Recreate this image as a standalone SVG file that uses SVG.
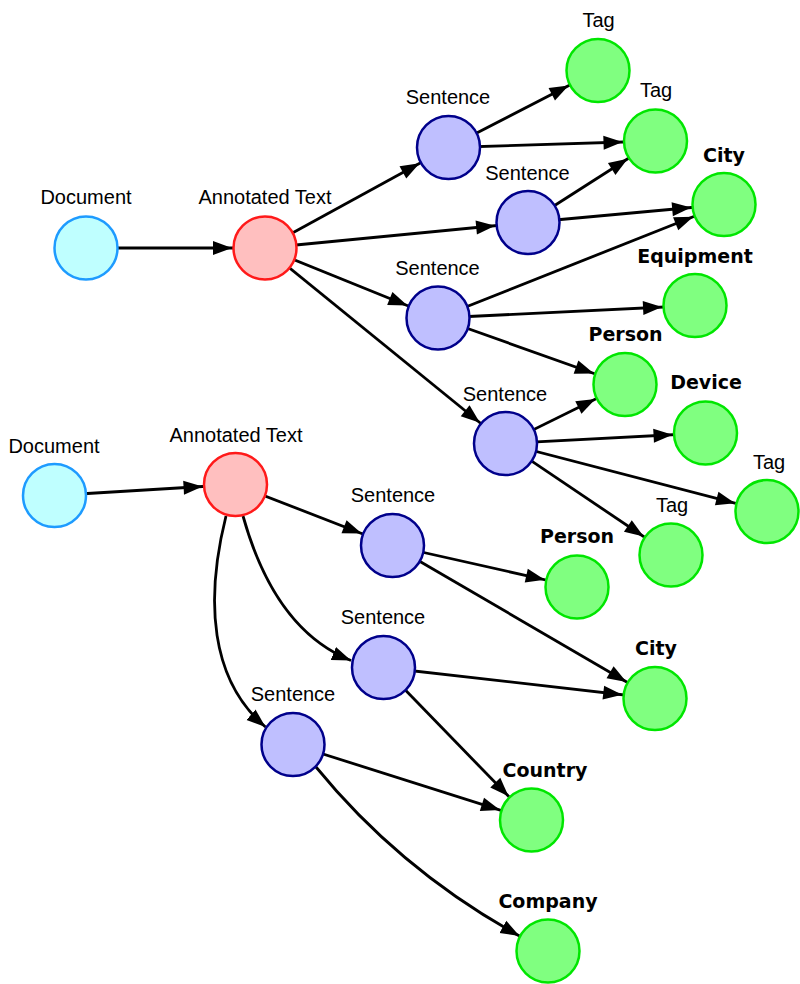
<svg xmlns="http://www.w3.org/2000/svg" width="800" height="984" viewBox="0 0 800 984">
<style>
.lbl{font-family:"Liberation Sans",Arial,sans-serif;font-size:20px;fill:#000;text-anchor:middle}
.bold{font-family:"DejaVu Sans","Liberation Sans",sans-serif;font-size:19px;font-weight:bold;fill:#000;text-anchor:middle}
.doc{fill:#bfffff;stroke:#1e9bff;stroke-width:2.5}
.ann{fill:#ffbfbf;stroke:#ff1a1a;stroke-width:2.5}
.sen{fill:#bfbfff;stroke:#00008b;stroke-width:2.5}
.ent{fill:#80ff80;stroke:#00e600;stroke-width:2.5}
.edge{fill:none;stroke:#000;stroke-width:2.8}
.e{marker-end:url(#arr)}
.c{marker-end:url(#tip)}
</style>
<defs>
<marker id="arr" viewBox="0 0 60 16" refX="60" refY="8" markerWidth="60" markerHeight="16" markerUnits="userSpaceOnUse" orient="auto">
<path d="M8,1 L27,8 L8,15 z" fill="#000"/>
</marker>
<marker id="tip" viewBox="0 0 19 16" refX="19" refY="8" markerWidth="19" markerHeight="16" markerUnits="userSpaceOnUse" orient="auto">
<path d="M0,1 L19,8 L0,15 z" fill="#000"/>
</marker>
</defs>
<g id="connectors" class="edge">
<line class="e" x1="86" y1="248" x2="265" y2="248"/>
<line class="e" x1="265" y1="248" x2="448.5" y2="147.5"/>
<line class="e" x1="265" y1="248" x2="528" y2="222.5"/>
<line class="e" x1="265" y1="248" x2="438" y2="318"/>
<line class="e" x1="265" y1="248" x2="505.5" y2="443.5"/>
<line class="e" x1="448.5" y1="147.5" x2="598" y2="70.5"/>
<line class="e" x1="448.5" y1="147.5" x2="655.5" y2="141"/>
<line class="e" x1="528" y1="222.5" x2="655.5" y2="141"/>
<line class="e" x1="528" y1="222.5" x2="724" y2="204.5"/>
<line class="e" x1="438" y1="318" x2="724" y2="204.5"/>
<line class="e" x1="438" y1="318" x2="695" y2="305.5"/>
<line class="e" x1="438" y1="318" x2="625" y2="384.5"/>
<line class="e" x1="505.5" y1="443.5" x2="625" y2="384.5"/>
<line class="e" x1="505.5" y1="443.5" x2="705.5" y2="433"/>
<line class="e" x1="505.5" y1="443.5" x2="767" y2="511.5"/>
<line class="e" x1="505.5" y1="443.5" x2="671" y2="555"/>
<line class="e" x1="54.5" y1="495.5" x2="235.5" y2="484.5"/>
<line class="e" x1="235.5" y1="484.5" x2="392.5" y2="545.5"/>
<path class="c" d="M243,516 Q275,630 351,660.5"/>
<path class="c" d="M226,516 C205,600 210,680 265.5,727"/>
<line class="e" x1="392.5" y1="545.5" x2="577" y2="587"/>
<line class="e" x1="392.5" y1="545.5" x2="655" y2="698.5"/>
<line class="e" x1="383.5" y1="667.5" x2="655" y2="698.5"/>
<line class="e" x1="383.5" y1="667.5" x2="531.5" y2="820"/>
<line class="e" x1="293" y1="744.5" x2="531.5" y2="820"/>
<path class="c" d="M316,767 Q400,870 519.5,936"/>
</g>
<g id="doc1"><circle class="doc" cx="86" cy="248" r="31.5"/><text class="lbl" x="86" y="204">Document</text></g>
<g id="ann1"><circle class="ann" cx="265" cy="248" r="31.5"/><text class="lbl" x="265" y="204">Annotated Text</text></g>
<g id="sen1"><circle class="sen" cx="448.5" cy="147.5" r="31.5"/><text class="lbl" x="448" y="104">Sentence</text></g>
<g id="sen2"><circle class="sen" cx="528" cy="222.5" r="31.5"/><text class="lbl" x="527.5" y="180">Sentence</text></g>
<g id="sen3"><circle class="sen" cx="438" cy="318" r="31.5"/><text class="lbl" x="437.5" y="275">Sentence</text></g>
<g id="sen4"><circle class="sen" cx="505.5" cy="443.5" r="31.5"/><text class="lbl" x="505" y="401">Sentence</text></g>
<g id="tag1"><circle class="ent" cx="598" cy="70.5" r="31.5"/><text class="lbl" x="598.5" y="27">Tag</text></g>
<g id="tag2"><circle class="ent" cx="655.5" cy="141" r="31.5"/><text class="lbl" x="656" y="97">Tag</text></g>
<g id="city1"><circle class="ent" cx="724" cy="204.5" r="31.5"/><text class="bold" x="724" y="162">City</text></g>
<g id="equipment"><circle class="ent" cx="695" cy="305.5" r="31.5"/><text class="bold" x="695" y="263">Equipment</text></g>
<g id="person1"><circle class="ent" cx="625" cy="384.5" r="31.5"/><text class="bold" x="625.5" y="341">Person</text></g>
<g id="device"><circle class="ent" cx="705.5" cy="433" r="31.5"/><text class="bold" x="706" y="389">Device</text></g>
<g id="tag3"><circle class="ent" cx="767" cy="511.5" r="31.5"/><text class="lbl" x="769" y="469">Tag</text></g>
<g id="tag4"><circle class="ent" cx="671" cy="555" r="31.5"/><text class="lbl" x="672" y="512">Tag</text></g>
<g id="doc2"><circle class="doc" cx="54.5" cy="495.5" r="31.5"/><text class="lbl" x="54" y="453">Document</text></g>
<g id="ann2"><circle class="ann" cx="235.5" cy="484.5" r="31.5"/><text class="lbl" x="236" y="442">Annotated Text</text></g>
<g id="senA"><circle class="sen" cx="392.5" cy="545.5" r="31.5"/><text class="lbl" x="393" y="502">Sentence</text></g>
<g id="senB"><circle class="sen" cx="383.5" cy="667.5" r="31.5"/><text class="lbl" x="383" y="624">Sentence</text></g>
<g id="senC"><circle class="sen" cx="293" cy="744.5" r="31.5"/><text class="lbl" x="293" y="701">Sentence</text></g>
<g id="person2"><circle class="ent" cx="577" cy="587" r="31.5"/><text class="bold" x="577" y="543">Person</text></g>
<g id="city2"><circle class="ent" cx="655" cy="698.5" r="31.5"/><text class="bold" x="656" y="655">City</text></g>
<g id="country"><circle class="ent" cx="531.5" cy="820" r="31.5"/><text class="bold" x="545" y="777">Country</text></g>
<g id="company"><circle class="ent" cx="548" cy="951" r="31.5"/><text class="bold" x="548" y="908">Company</text></g>
</svg>
